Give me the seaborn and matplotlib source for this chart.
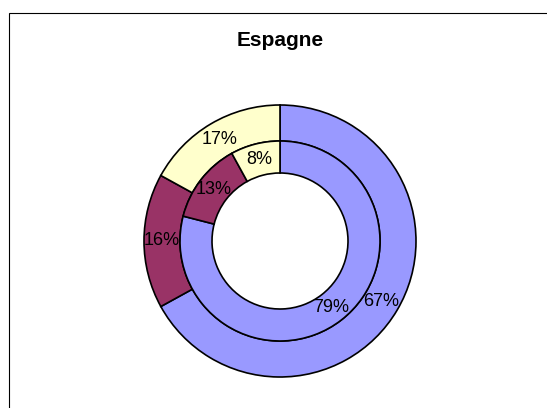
import matplotlib
matplotlib.use("Agg")
import matplotlib.pyplot as plt
from matplotlib.patches import Rectangle
import seaborn as sns

categories = ["Catégorie 1", "Catégorie 2", "Catégorie 3"]
outer_values = [67, 16, 17]
inner_values = [79, 13, 8]
colors = ["#9999FF", "#993366", "#FFFFCC"]

sns.set_theme(style="white")
plt.rcParams["font.family"] = ["Liberation Sans", "DejaVu Sans"]

W, H = 547, 408
fig = plt.figure(figsize=(W / 100, H / 100), dpi=100)
fig.patch.set_facecolor("white")

# chart frame (runs off the right and bottom edges)
fig.patches.append(Rectangle((9 / W, -0.1), 1.2, 1 - 13 / H + 0.1, transform=fig.transFigure,
                             fill=False, edgecolor="black", linewidth=0.8))

cx, cy, r = 280, 241, 136
ax = fig.add_axes([(cx - r) / W, (H - cy - r) / H, 2 * r / W, 2 * r / H])
ax.set_axis_off()

wp = dict(edgecolor="black", linewidth=1.2)
ax.pie(outer_values, radius=1, startangle=90, counterclock=False, colors=colors,
       autopct="%.0f%%", pctdistance=0.868, textprops=dict(fontsize=13, color="black"),
       wedgeprops=dict(width=36 / r, **wp))
r_in = 100 / r
ax.pie(inner_values, radius=r_in, startangle=90, counterclock=False, colors=colors,
       autopct="%.0f%%", pctdistance=0.84, textprops=dict(fontsize=13, color="black"),
       wedgeprops=dict(width=32 / r, **wp))
ax.set_xlim(-1, 1)
ax.set_ylim(-1, 1)
ax.set_aspect("auto")

fig.text(cx / W, 1 - 40 / H, "Espagne", ha="center", va="center", fontsize=15,
         fontweight="bold", color="black")

fig.savefig("out.png", dpi=100)
